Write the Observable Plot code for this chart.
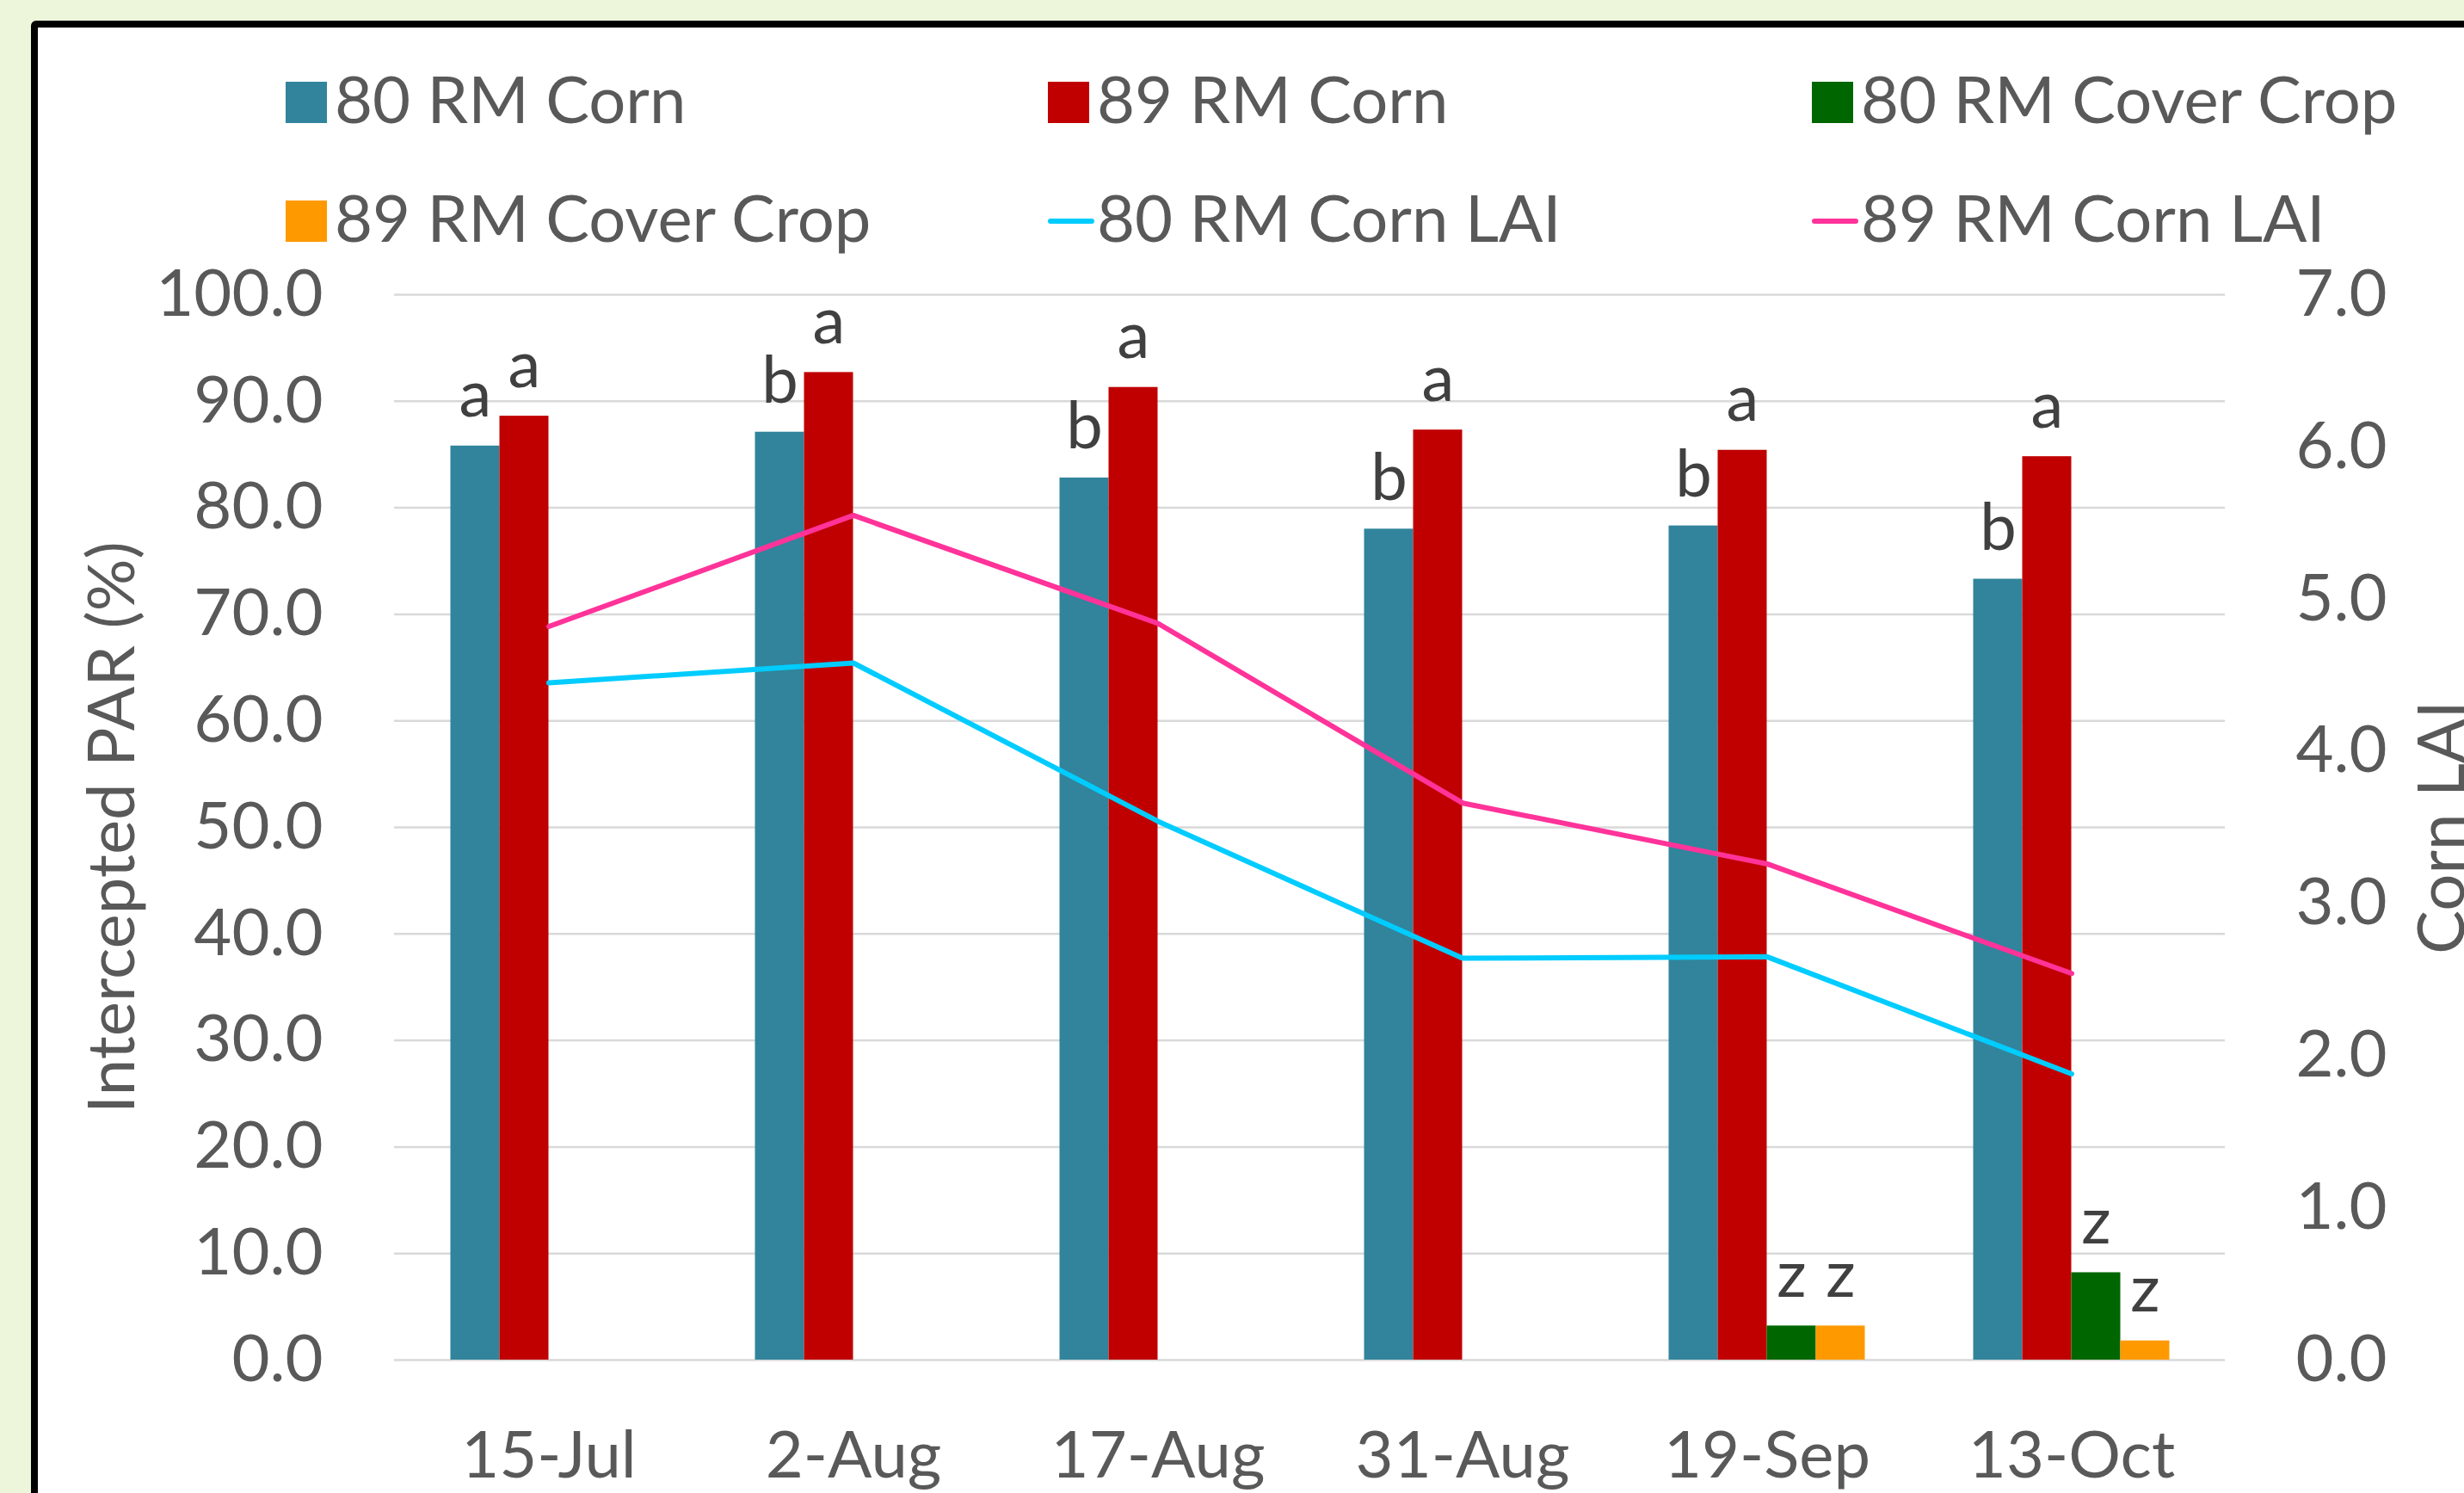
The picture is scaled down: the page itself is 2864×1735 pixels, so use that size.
<!DOCTYPE html>
<html><head><meta charset="utf-8">
<script src="https://cdn.jsdelivr.net/npm/d3@7"></script>
<script src="https://cdn.jsdelivr.net/npm/@observablehq/plot@0.6"></script>
<style>
html,body{margin:0;padding:0;width:2864px;height:1735px;overflow:hidden;background:#EDF6DA;font-family:Lato,sans-serif;}
#frame{position:absolute;left:36px;top:24px;width:2900px;height:1800px;border:8px solid #000;border-radius:6px;background:#fff;box-sizing:border-box;}
#legend{position:absolute;left:0;top:0;width:2864px;height:300px;}
.sw{position:absolute;width:48px;height:48px;}
.ln{position:absolute;width:54px;height:6px;border-radius:3px;}
.lt{position:absolute;font-size:76px;line-height:1;color:#595959;white-space:nowrap;}
#chart{position:absolute;left:0;top:300px;}
</style></head><body>
<div id="frame"></div>
<div id="legend"></div>
<div id="chart"></div>
<script>
// ---- data ----
const dates = ["15-Jul", "2-Aug", "17-Aug", "31-Aug", "19-Sep", "13-Oct"];
const corn80 = [85.8, 87.1, 82.8, 78.0, 78.3, 73.3];
const corn89 = [88.6, 92.7, 91.3, 87.3, 85.4, 84.8];
const cover80 = [null, null, null, null, 3.2, 8.2];
const cover89 = [null, null, null, null, 3.2, 1.8];
const letters80 = ["a", "b", "b", "b", "b", "b"];
const letters89 = ["a", "a", "a", "a", "a", "a"];
const lettersCover80 = [null, null, null, null, "z", "z"];
const lettersCover89 = [null, null, null, null, "z", "z"];
const lai80 = [4.45, 4.58, 3.54, 2.64, 2.65, 1.88];
const lai89 = [4.82, 5.55, 4.84, 3.66, 3.26, 2.54];
const parTicks = [0, 10, 20, 30, 40, 50, 60, 70, 80, 90, 100];
const laiTicks = [0, 1, 2, 3, 4, 5, 6, 7];
const laiMax = 7, parMax = 100;

const barSeries = [
  {name: "80 RM Corn", values: corn80, letters: letters80, color: "#31849B"},
  {name: "89 RM Corn", values: corn89, letters: letters89, color: "#C00000"},
  {name: "80 RM Cover Crop", values: cover80, letters: lettersCover80, color: "#006600"},
  {name: "89 RM Cover Crop", values: cover89, letters: lettersCover89, color: "#FF9900"}
];
const lineSeries = [
  {name: "80 RM Corn LAI", values: lai80, color: "#00CCFF"},
  {name: "89 RM Corn LAI", values: lai89, color: "#FF3399"}
];

// ---- legend ----
const legend = document.getElementById("legend");
const legendItems = [
  {s: barSeries[0], kind: "bar"}, {s: barSeries[1], kind: "bar"}, {s: barSeries[2], kind: "bar"},
  {s: barSeries[3], kind: "bar"}, {s: lineSeries[0], kind: "line"}, {s: lineSeries[1], kind: "line"}
];
const colX = [332, 1218, 2106], rowBase = [143, 281];
legendItems.forEach((it, i) => {
  const x = colX[i % 3], base = rowBase[Math.floor(i / 3)];
  const mark = document.createElement("div");
  if (it.kind === "bar") {
    mark.className = "sw";
    mark.style.left = x + "px"; mark.style.top = (base - 48) + "px";
  } else {
    mark.className = "ln";
    mark.style.left = x + "px"; mark.style.top = (base - 27) + "px";
  }
  mark.style.background = it.s.color;
  legend.appendChild(mark);
  const t = document.createElement("div");
  t.className = "lt";
  t.textContent = it.s.name;
  t.style.left = (x + 57) + "px";
  t.style.top = (base - 67) + "px";
  legend.appendChild(t);
});

// ---- chart ----
const W = 2864, H = 1435;
const mL = 458, mR = 278, mT = 42, mB = 155;
const step = (W - mL - mR) / dates.length;
const barW = 57;
const pInner = 1 - barW / step;

const marks = [Plot.gridY(parTicks, {stroke: "#D9D9D9", strokeOpacity: 1, strokeWidth: 2.5})];
barSeries.forEach((s, k) => {
  const rows = dates.map((d, i) => ({date: d, value: s.values[i], letter: s.letters[i]})).filter(r => r.value != null);
  const dx = (k - (barSeries.length - 1) / 2) * barW;
  marks.push(Plot.barY(rows, {x: "date", y: "value", fill: s.color, dx}));
  marks.push(Plot.text(rows.filter(r => r.letter), {x: "date", y: "value", text: "letter", dx, dy: -34, lineAnchor: "bottom", fill: "#404040"}));
});
lineSeries.forEach(s => {
  const rows = dates.map((d, i) => ({date: d, lai: s.values[i]}));
  marks.push(Plot.lineY(rows, {x: "date", y: d => d.lai * parMax / laiMax, stroke: s.color, strokeWidth: 6, strokeLinecap: "round", strokeLinejoin: "round"}));
});
marks.push(
  Plot.axisY(parTicks, {anchor: "left", tickFormat: d => d.toFixed(1), tickSize: 0, tickPadding: 83, label: null}),
  Plot.axisY(laiTicks.map(v => v * parMax / laiMax), {anchor: "right", tickFormat: d => (d * laiMax / parMax).toFixed(1), tickSize: 0, tickPadding: 82, label: null}),
  Plot.axisX({tickSize: 0, tickPadding: 83, label: null}),
  Plot.text(["Intercepted PAR (%)"], {text: d => d, frameAnchor: "left", textAnchor: "middle", rotate: -90, dx: -327, fill: "#595959"}),
  Plot.text(["Corn LAI"], {text: d => d, frameAnchor: "right", textAnchor: "middle", rotate: -90, dx: 253, fill: "#595959"})
);

const chart = Plot.plot({
  width: W, height: H,
  marginLeft: mL, marginRight: mR, marginTop: mT, marginBottom: mB,
  style: {fontFamily: "Lato, sans-serif", fontSize: "76px", color: "#595959", background: "transparent", overflow: "visible"},
  x: {type: "band", domain: dates, paddingInner: pInner, paddingOuter: pInner / 2, align: 0.5},
  y: {domain: [0, parMax]},
  marks
});
document.getElementById("chart").appendChild(chart);
</script>
</body></html>
